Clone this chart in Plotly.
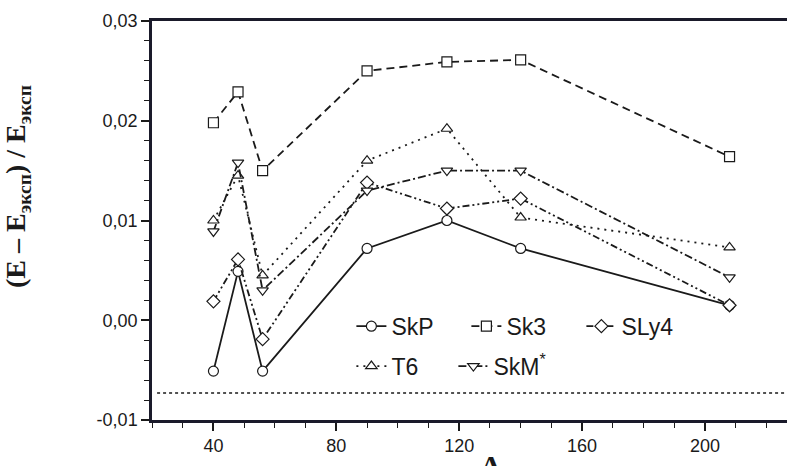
import plotly.graph_objects as go

# ---- data ----
A = [40, 48, 56, 90, 116, 140, 208]
SkP = [-0.0051, 0.0049, -0.0051, 0.0072, 0.0100, 0.0072, 0.0015]
Sk3 = [0.0198, 0.0229, 0.0150, 0.0250, 0.0259, 0.0261, 0.0164]
SLy4 = [0.0019, 0.0061, -0.0019, 0.0138, 0.0112, 0.0122, 0.0015]
T6 = [0.0100, 0.0145, 0.0045, 0.0160, 0.0192, 0.0103, 0.0073]
SkMs = [0.0089, 0.0158, 0.0030, 0.0130, 0.0150, 0.0150, 0.0043]
ref_level = -0.0073

y_ticks = [-0.01, 0.0, 0.01, 0.02, 0.03]
y_ticklabels = ["-0,01", "0,00", "0,01", "0,02", "0,03"]
x_ticks = [40, 80, 120, 160, 200]
x_ticklabels = ["40", "80", "120", "160", "200"]

series = [
    ("SkP", SkP, "circle", "solid", "legend"),
    ("Sk3", Sk3, "square", "8px,5px", "legend"),
    ("SLy4", SLy4, "diamond", "7px,3px,2px,3px,2px,3px", "legend"),
    ("T6", T6, "triangle-up", "2px,5px", "legend2"),
    ("SkM<sup>*</sup>", SkMs, "triangle-down", "8px,3px,2px,3px", "legend2"),
]

fig = go.Figure()
for name, vals, sym, dash, leg in series:
    fig.add_trace(go.Scatter(
        x=A, y=vals, name=name, mode="lines+markers",
        line=dict(color="#1a1a1a", width=1.8, dash=dash),
        marker=dict(symbol=sym, size=10, color="white",
                    line=dict(color="#1a1a1a", width=1.2)),
        legend=leg,
    ))

fig.add_shape(type="line", xref="paper", yref="y", x0=0.008, x1=1,
              y0=ref_level, y1=ref_level,
              line=dict(color="#1a1a1a", width=1.6, dash="3px,3px"))

tickfont = dict(family="Liberation Sans, Arial", size=18, color="#1a1a1a")
legfont = dict(family="Liberation Sans, Arial", size=23, color="#1a1a1a")
fig.update_layout(
    width=787, height=466,
    margin=dict(l=152, r=0, t=21, b=46),
    paper_bgcolor="white", plot_bgcolor="white",
    showlegend=True,
    legend=dict(orientation="h", x=0.314, y=0.235, xanchor="left", yanchor="middle",
                font=legfont, bgcolor="rgba(0,0,0,0)",
                entrywidth=70, entrywidthmode="pixels", itemclick=False),
    legend2=dict(orientation="h", x=0.314, y=0.135, xanchor="left", yanchor="middle",
                 font=legfont, bgcolor="rgba(0,0,0,0)",
                 entrywidth=57, entrywidthmode="pixels", itemclick=False),
    xaxis=dict(range=[20, 226.7], showgrid=False, zeroline=False,
               showline=True, linecolor="#1a1a2a", linewidth=2.5, mirror=True,
               tickmode="array", tickvals=x_ticks, ticktext=x_ticklabels,
               ticks="outside", ticklen=8, tickwidth=1.5, tickcolor="#1a1a1a",
               minor=dict(dtick=10, tick0=0, ticks="outside", ticklen=5,
                          tickwidth=1.3, tickcolor="#1a1a1a"),
               tickfont=tickfont),
    yaxis=dict(range=[-0.01, 0.03], showgrid=False, zeroline=False,
               showline=True, linecolor="#1a1a2a", linewidth=2.5, mirror=False,
               tickmode="array", tickvals=y_ticks, ticktext=y_ticklabels,
               ticks="outside", ticklen=8, tickwidth=1.5, tickcolor="#1a1a1a",
               minor=dict(dtick=0.002, tick0=0, ticks="outside", ticklen=5,
                          tickwidth=1.3, tickcolor="#1a1a1a"),
               tickfont=tickfont),
)

fig.add_annotation(
    text="<b>(E – E<sub>эксп</sub>) / E<sub>эксп</sub></b>",
    xref="paper", yref="paper", x=-0.212, y=0.585, xanchor="center", yanchor="middle",
    textangle=-90, showarrow=False,
    font=dict(family="Liberation Serif, Times New Roman", size=28, color="#1a1a1a"),
)
fig.add_annotation(
    text="<b>A</b>", xref="paper", yref="paper", x=0.534, y=-0.068,
    xanchor="center", yanchor="top", showarrow=False,
    font=dict(family="Liberation Serif, Times New Roman", size=30, color="#1a1a1a"),
)

fig.write_html("out.html")
